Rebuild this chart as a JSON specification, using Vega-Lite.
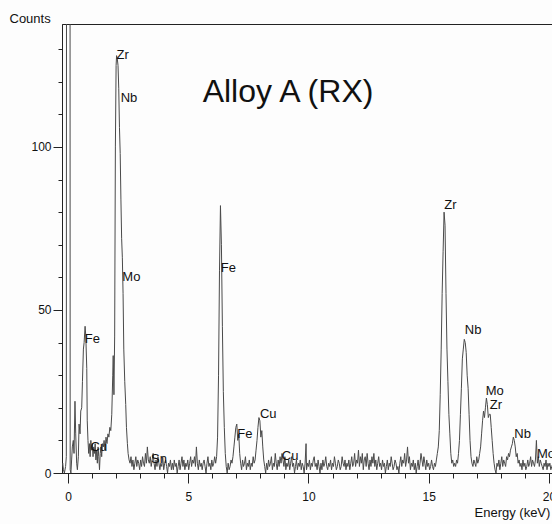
{
  "$schema": "https://vega.github.io/schema/vega-lite/v6.json",
  "width": 491,
  "height": 449,
  "autosize": "none",
  "padding": {"left": 62, "top": 24, "right": 0, "bottom": 51},
  "background": "#fdfdfd",
  "config": {
    "view": {"stroke": "#222", "strokeWidth": 1},
    "font": "Liberation Sans"
  },
  "layer": [
    {
      "data": {"values": [
        {"e":-0.25,"c":2},{"e":-0.22,"c":3},{"e":-0.19,"c":1},{"e":-0.15,"c":0},{"e":-0.1,"c":2},{"e":-0.07,"c":5},{"e":-0.055,"c":300},{"e":0.08,"c":300},{"e":0.09,"c":1},{"e":0.12,"c":0},{"e":0.15,"c":4},{"e":0.18,"c":8},{"e":0.22,"c":10},{"e":0.25,"c":6},{"e":0.29,"c":22},{"e":0.32,"c":12},{"e":0.36,"c":3},{"e":0.39,"c":1},{"e":0.43,"c":5},{"e":0.46,"c":15},{"e":0.5,"c":12},{"e":0.53,"c":19},{"e":0.57,"c":20},{"e":0.6,"c":28},{"e":0.64,"c":38},{"e":0.67,"c":40},{"e":0.71,"c":45},{"e":0.74,"c":42},{"e":0.78,"c":32},{"e":0.8,"c":16},{"e":0.83,"c":10},{"e":0.86,"c":6},{"e":0.89,"c":9},{"e":0.92,"c":5},{"e":0.95,"c":10},{"e":0.98,"c":7},{"e":1.01,"c":9},{"e":1.04,"c":5},{"e":1.07,"c":8},{"e":1.1,"c":6},{"e":1.13,"c":9},{"e":1.16,"c":4},{"e":1.19,"c":7},{"e":1.22,"c":3},{"e":1.25,"c":8},{"e":1.28,"c":5},{"e":1.31,"c":1},{"e":1.34,"c":6},{"e":1.37,"c":8},{"e":1.4,"c":5},{"e":1.43,"c":9},{"e":1.47,"c":8},{"e":1.5,"c":10},{"e":1.54,"c":7},{"e":1.58,"c":11},{"e":1.62,"c":9},{"e":1.66,"c":12},{"e":1.7,"c":11},{"e":1.74,"c":14},{"e":1.78,"c":13},{"e":1.82,"c":18},{"e":1.86,"c":30},{"e":1.88,"c":36},{"e":1.91,"c":24},{"e":1.94,"c":42},{"e":1.97,"c":100},{"e":2.0,"c":125},{"e":2.02,"c":128},{"e":2.05,"c":127},{"e":2.08,"c":125},{"e":2.11,"c":118},{"e":2.14,"c":106},{"e":2.17,"c":98},{"e":2.2,"c":84},{"e":2.23,"c":72},{"e":2.26,"c":66},{"e":2.29,"c":55},{"e":2.32,"c":38},{"e":2.36,"c":28},{"e":2.4,"c":21},{"e":2.43,"c":14},{"e":2.47,"c":9},{"e":2.5,"c":6},{"e":2.54,"c":4},{"e":2.58,"c":3},{"e":2.62,"c":5},{"e":2.66,"c":2},{"e":2.7,"c":4},{"e":2.74,"c":1},{"e":2.78,"c":3},{"e":2.82,"c":5},{"e":2.86,"c":2},{"e":2.9,"c":4},{"e":2.94,"c":3},{"e":2.98,"c":1},{"e":3.02,"c":4},{"e":3.06,"c":2},{"e":3.1,"c":5},{"e":3.14,"c":3},{"e":3.18,"c":2},{"e":3.22,"c":6},{"e":3.26,"c":3},{"e":3.3,"c":8},{"e":3.34,"c":4},{"e":3.38,"c":3},{"e":3.42,"c":5},{"e":3.46,"c":2},{"e":3.5,"c":4},{"e":3.54,"c":6},{"e":3.58,"c":3},{"e":3.62,"c":1},{"e":3.66,"c":4},{"e":3.7,"c":2},{"e":3.74,"c":5},{"e":3.78,"c":3},{"e":3.82,"c":1},{"e":3.86,"c":3},{"e":3.9,"c":2},{"e":3.94,"c":5},{"e":3.98,"c":1},{"e":4.02,"c":3},{"e":4.06,"c":4},{"e":4.1,"c":2},{"e":4.14,"c":0},{"e":4.18,"c":3},{"e":4.22,"c":2},{"e":4.26,"c":4},{"e":4.3,"c":1},{"e":4.34,"c":3},{"e":4.38,"c":1},{"e":4.42,"c":4},{"e":4.46,"c":2},{"e":4.5,"c":3},{"e":4.54,"c":0},{"e":4.58,"c":2},{"e":4.62,"c":4},{"e":4.66,"c":1},{"e":4.7,"c":3},{"e":4.74,"c":5},{"e":4.78,"c":2},{"e":4.82,"c":4},{"e":4.86,"c":1},{"e":4.9,"c":3},{"e":4.94,"c":2},{"e":4.98,"c":4},{"e":5.02,"c":1},{"e":5.06,"c":3},{"e":5.1,"c":5},{"e":5.14,"c":2},{"e":5.18,"c":4},{"e":5.22,"c":3},{"e":5.26,"c":5},{"e":5.3,"c":2},{"e":5.34,"c":8},{"e":5.38,"c":3},{"e":5.42,"c":1},{"e":5.46,"c":4},{"e":5.5,"c":2},{"e":5.54,"c":3},{"e":5.58,"c":1},{"e":5.62,"c":3},{"e":5.66,"c":4},{"e":5.7,"c":2},{"e":5.74,"c":0},{"e":5.78,"c":3},{"e":5.82,"c":5},{"e":5.86,"c":2},{"e":5.9,"c":3},{"e":5.94,"c":1},{"e":5.98,"c":4},{"e":6.02,"c":2},{"e":6.06,"c":3},{"e":6.1,"c":5},{"e":6.14,"c":3},{"e":6.18,"c":5},{"e":6.22,"c":11},{"e":6.26,"c":30},{"e":6.3,"c":62},{"e":6.34,"c":82},{"e":6.38,"c":70},{"e":6.42,"c":45},{"e":6.46,"c":25},{"e":6.5,"c":14},{"e":6.54,"c":6},{"e":6.58,"c":2},{"e":6.62,"c":0},{"e":6.66,"c":3},{"e":6.7,"c":1},{"e":6.74,"c":2},{"e":6.78,"c":4},{"e":6.82,"c":3},{"e":6.86,"c":5},{"e":6.9,"c":8},{"e":6.94,"c":11},{"e":6.98,"c":14},{"e":7.02,"c":15},{"e":7.06,"c":10},{"e":7.1,"c":12},{"e":7.14,"c":6},{"e":7.18,"c":3},{"e":7.22,"c":1},{"e":7.26,"c":4},{"e":7.3,"c":2},{"e":7.34,"c":3},{"e":7.38,"c":5},{"e":7.42,"c":1},{"e":7.46,"c":3},{"e":7.5,"c":2},{"e":7.54,"c":4},{"e":7.58,"c":1},{"e":7.62,"c":3},{"e":7.66,"c":2},{"e":7.7,"c":5},{"e":7.74,"c":3},{"e":7.78,"c":4},{"e":7.82,"c":7},{"e":7.86,"c":10},{"e":7.9,"c":14},{"e":7.94,"c":17},{"e":7.98,"c":16},{"e":8.02,"c":11},{"e":8.06,"c":13},{"e":8.1,"c":8},{"e":8.14,"c":4},{"e":8.18,"c":2},{"e":8.22,"c":0},{"e":8.26,"c":3},{"e":8.3,"c":1},{"e":8.34,"c":4},{"e":8.38,"c":2},{"e":8.42,"c":3},{"e":8.46,"c":5},{"e":8.5,"c":1},{"e":8.54,"c":3},{"e":8.58,"c":2},{"e":8.62,"c":6},{"e":8.66,"c":3},{"e":8.7,"c":1},{"e":8.74,"c":4},{"e":8.78,"c":2},{"e":8.82,"c":5},{"e":8.86,"c":3},{"e":8.9,"c":6},{"e":8.94,"c":4},{"e":8.98,"c":2},{"e":9.02,"c":5},{"e":9.06,"c":1},{"e":9.1,"c":3},{"e":9.14,"c":2},{"e":9.18,"c":4},{"e":9.22,"c":1},{"e":9.26,"c":3},{"e":9.3,"c":5},{"e":9.34,"c":2},{"e":9.38,"c":3},{"e":9.42,"c":0},{"e":9.46,"c":2},{"e":9.5,"c":4},{"e":9.54,"c":1},{"e":9.58,"c":3},{"e":9.62,"c":2},{"e":9.66,"c":4},{"e":9.7,"c":1},{"e":9.74,"c":3},{"e":9.78,"c":2},{"e":9.82,"c":0},{"e":9.86,"c":3},{"e":9.9,"c":9},{"e":9.92,"c":1},{"e":9.96,"c":3},{"e":10.0,"c":2},{"e":10.04,"c":4},{"e":10.08,"c":1},{"e":10.12,"c":3},{"e":10.16,"c":2},{"e":10.2,"c":4},{"e":10.24,"c":5},{"e":10.28,"c":2},{"e":10.32,"c":3},{"e":10.36,"c":1},{"e":10.4,"c":4},{"e":10.44,"c":2},{"e":10.48,"c":0},{"e":10.52,"c":3},{"e":10.56,"c":1},{"e":10.6,"c":4},{"e":10.64,"c":2},{"e":10.68,"c":3},{"e":10.72,"c":5},{"e":10.76,"c":2},{"e":10.8,"c":1},{"e":10.84,"c":3},{"e":10.88,"c":2},{"e":10.92,"c":4},{"e":10.96,"c":1},{"e":11.0,"c":3},{"e":11.04,"c":2},{"e":11.08,"c":5},{"e":11.12,"c":3},{"e":11.16,"c":1},{"e":11.2,"c":2},{"e":11.24,"c":4},{"e":11.28,"c":3},{"e":11.32,"c":1},{"e":11.36,"c":2},{"e":11.4,"c":5},{"e":11.44,"c":3},{"e":11.48,"c":2},{"e":11.52,"c":4},{"e":11.56,"c":1},{"e":11.6,"c":3},{"e":11.64,"c":2},{"e":11.68,"c":4},{"e":11.72,"c":1},{"e":11.76,"c":3},{"e":11.8,"c":5},{"e":11.84,"c":2},{"e":11.88,"c":3},{"e":11.92,"c":6},{"e":11.96,"c":2},{"e":12.0,"c":4},{"e":12.04,"c":3},{"e":12.08,"c":7},{"e":12.12,"c":2},{"e":12.16,"c":5},{"e":12.2,"c":3},{"e":12.24,"c":6},{"e":12.28,"c":1},{"e":12.32,"c":4},{"e":12.36,"c":5},{"e":12.4,"c":2},{"e":12.44,"c":6},{"e":12.48,"c":3},{"e":12.52,"c":1},{"e":12.56,"c":4},{"e":12.6,"c":2},{"e":12.64,"c":5},{"e":12.68,"c":3},{"e":12.72,"c":6},{"e":12.76,"c":2},{"e":12.8,"c":4},{"e":12.84,"c":1},{"e":12.88,"c":3},{"e":12.92,"c":5},{"e":12.96,"c":2},{"e":13.0,"c":3},{"e":13.04,"c":1},{"e":13.08,"c":4},{"e":13.12,"c":2},{"e":13.16,"c":3},{"e":13.2,"c":0},{"e":13.24,"c":2},{"e":13.28,"c":4},{"e":13.32,"c":1},{"e":13.36,"c":3},{"e":13.4,"c":2},{"e":13.44,"c":5},{"e":13.48,"c":3},{"e":13.52,"c":1},{"e":13.56,"c":2},{"e":13.6,"c":4},{"e":13.64,"c":3},{"e":13.68,"c":1},{"e":13.72,"c":2},{"e":13.76,"c":0},{"e":13.8,"c":3},{"e":13.84,"c":5},{"e":13.88,"c":2},{"e":13.92,"c":4},{"e":13.96,"c":3},{"e":14.0,"c":6},{"e":14.04,"c":2},{"e":14.08,"c":4},{"e":14.12,"c":8},{"e":14.16,"c":3},{"e":14.2,"c":5},{"e":14.24,"c":1},{"e":14.28,"c":3},{"e":14.32,"c":2},{"e":14.36,"c":4},{"e":14.4,"c":1},{"e":14.44,"c":3},{"e":14.48,"c":0},{"e":14.52,"c":2},{"e":14.56,"c":4},{"e":14.6,"c":1},{"e":14.64,"c":3},{"e":14.68,"c":6},{"e":14.72,"c":4},{"e":14.76,"c":2},{"e":14.8,"c":5},{"e":14.84,"c":3},{"e":14.88,"c":1},{"e":14.92,"c":4},{"e":14.96,"c":2},{"e":15.0,"c":3},{"e":15.04,"c":1},{"e":15.08,"c":2},{"e":15.12,"c":4},{"e":15.16,"c":2},{"e":15.2,"c":1},{"e":15.24,"c":3},{"e":15.28,"c":2},{"e":15.32,"c":4},{"e":15.36,"c":6},{"e":15.4,"c":8},{"e":15.44,"c":13},{"e":15.48,"c":24},{"e":15.52,"c":38},{"e":15.56,"c":55},{"e":15.6,"c":68},{"e":15.64,"c":80},{"e":15.68,"c":76},{"e":15.72,"c":55},{"e":15.76,"c":38},{"e":15.8,"c":28},{"e":15.84,"c":18},{"e":15.88,"c":12},{"e":15.92,"c":6},{"e":15.96,"c":3},{"e":16.0,"c":4},{"e":16.04,"c":2},{"e":16.08,"c":3},{"e":16.12,"c":2},{"e":16.16,"c":4},{"e":16.2,"c":3},{"e":16.24,"c":6},{"e":16.28,"c":10},{"e":16.32,"c":18},{"e":16.36,"c":26},{"e":16.4,"c":35},{"e":16.44,"c":38},{"e":16.48,"c":41},{"e":16.52,"c":40},{"e":16.56,"c":37},{"e":16.6,"c":30},{"e":16.64,"c":26},{"e":16.68,"c":18},{"e":16.72,"c":10},{"e":16.76,"c":5},{"e":16.8,"c":3},{"e":16.84,"c":2},{"e":16.88,"c":4},{"e":16.92,"c":3},{"e":16.96,"c":2},{"e":17.0,"c":5},{"e":17.04,"c":3},{"e":17.08,"c":4},{"e":17.12,"c":6},{"e":17.16,"c":8},{"e":17.2,"c":12},{"e":17.24,"c":16},{"e":17.28,"c":19},{"e":17.32,"c":17},{"e":17.36,"c":20},{"e":17.4,"c":23},{"e":17.44,"c":21},{"e":17.48,"c":17},{"e":17.52,"c":18},{"e":17.56,"c":18},{"e":17.6,"c":14},{"e":17.64,"c":10},{"e":17.68,"c":6},{"e":17.72,"c":3},{"e":17.76,"c":1},{"e":17.8,"c":0},{"e":17.84,"c":3},{"e":17.88,"c":2},{"e":17.92,"c":4},{"e":17.96,"c":1},{"e":18.0,"c":3},{"e":18.04,"c":5},{"e":18.08,"c":2},{"e":18.12,"c":4},{"e":18.16,"c":3},{"e":18.2,"c":2},{"e":18.24,"c":5},{"e":18.28,"c":4},{"e":18.32,"c":6},{"e":18.36,"c":5},{"e":18.4,"c":7},{"e":18.44,"c":8},{"e":18.48,"c":9},{"e":18.52,"c":11},{"e":18.56,"c":10},{"e":18.6,"c":8},{"e":18.64,"c":5},{"e":18.68,"c":6},{"e":18.72,"c":3},{"e":18.76,"c":4},{"e":18.8,"c":2},{"e":18.84,"c":3},{"e":18.88,"c":1},{"e":18.92,"c":4},{"e":18.96,"c":2},{"e":19.0,"c":3},{"e":19.04,"c":1},{"e":19.08,"c":2},{"e":19.12,"c":4},{"e":19.16,"c":2},{"e":19.2,"c":3},{"e":19.24,"c":5},{"e":19.28,"c":2},{"e":19.32,"c":4},{"e":19.36,"c":3},{"e":19.4,"c":2},{"e":19.44,"c":4},{"e":19.48,"c":10},{"e":19.52,"c":3},{"e":19.56,"c":5},{"e":19.6,"c":2},{"e":19.64,"c":4},{"e":19.68,"c":3},{"e":19.72,"c":2},{"e":19.76,"c":1},{"e":19.8,"c":3},{"e":19.84,"c":2},{"e":19.88,"c":4},{"e":19.92,"c":1},{"e":19.96,"c":3},{"e":20.0,"c":2},{"e":20.04,"c":3},{"e":20.08,"c":1},{"e":20.12,"c":2},{"e":20.17,"c":3}
      ]},
      "mark": {"type": "line", "clip": true, "color": "#4a4a4a", "strokeWidth": 1, "interpolate": "linear"},
      "encoding": {
        "x": {
          "field": "e", "type": "quantitative",
          "scale": {"domain": [-0.25, 20.17], "nice": false, "zero": false},
          "axis": {
            "values": [0,1,2,3,4,5,6,7,8,9,10,11,12,13,14,15,16,17,18,19,20],
            "tickCount": 100,
            "format": "d",
            "labelExpr": "datum.value % 5 === 0 ? datum.label : ''",
            "tickSize": {"condition": {"test": "datum.value % 5 === 0", "value": 10}, "value": 5},
            "labelPadding": 8,
            "labelFontSize": 12,
            "labelColor": "#111",
            "labelFlush": false,
            "labelOverlap": false,
            "labelBound": false,
            "domainColor": "#222",
            "tickColor": "#222",
            "grid": false,
            "title": "Energy (keV)",
            "titleFontSize": 13,
            "titleFontWeight": "normal",
            "titleColor": "#111",
            "titleAlign": "left",
            "titleAnchor": null,
            "titleBaseline": "alphabetic",
            "titleX": 412,
            "titleY": 43
          }
        },
        "y": {
          "field": "c", "type": "quantitative",
          "scale": {"domain": [0, 137.7], "nice": false},
          "axis": {
            "values": [0,10,20,30,40,50,60,70,80,90,100,110,120,130],
            "tickCount": 100,
            "format": "d",
            "labelExpr": "datum.value % 50 === 0 ? datum.label : ''",
            "tickSize": {"condition": {"test": "datum.value % 50 === 0", "value": 9}, "value": 4},
            "labelPadding": 2,
            "labelFontSize": 12,
            "labelColor": "#111",
            "labelFlush": false,
            "labelOverlap": false,
            "labelBound": false,
            "domainColor": "#222",
            "tickColor": "#222",
            "grid": false,
            "title": "Counts",
            "titleFontSize": 13,
            "titleFontWeight": "normal",
            "titleColor": "#111",
            "titleAngle": 0,
            "titleAlign": "left",
            "titleAnchor": null,
            "titleBaseline": "alphabetic",
            "titleX": -53,
            "titleY": -2
          }
        }
      }
    },
    {
      "data": {"values": [
        {"e":2.02,"c":128.3,"t":"Zr"},
        {"e":2.19,"c":115.1,"t":"Nb"},
        {"e":2.26,"c":60.1,"t":"Mo"},
        {"e":0.70,"c":41.2,"t":"Fe"},
        {"e":0.94,"c":8.1,"t":"Cu"},
        {"e":3.45,"c":4.2,"t":"Sn"},
        {"e":6.35,"c":63.0,"t":"Fe"},
        {"e":7.04,"c":12.1,"t":"Fe"},
        {"e":7.98,"c":18.0,"t":"Cu"},
        {"e":8.89,"c":5.3,"t":"Cu"},
        {"e":15.65,"c":82.3,"t":"Zr"},
        {"e":16.5,"c":43.8,"t":"Nb"},
        {"e":17.37,"c":25.1,"t":"Mo"},
        {"e":17.54,"c":21.0,"t":"Zr"},
        {"e":18.56,"c":12.1,"t":"Nb"},
        {"e":19.5,"c":5.9,"t":"Mo"}
      ]},
      "mark": {"type": "text", "align": "left", "baseline": "middle", "fontSize": 13, "color": "#111", "font": "Liberation Sans"},
      "encoding": {
        "x": {"field": "e", "type": "quantitative"},
        "y": {"field": "c", "type": "quantitative"},
        "text": {"field": "t"}
      }
    },
    {
      "data": {"values": [{"e": 5.6, "c": 113.7, "t": "Alloy A (RX)"}]},
      "mark": {"type": "text", "align": "left", "baseline": "alphabetic", "fontSize": 32, "color": "#111", "font": "Liberation Sans"},
      "encoding": {
        "x": {"field": "e", "type": "quantitative"},
        "y": {"field": "c", "type": "quantitative"},
        "text": {"field": "t"}
      }
    }
  ]
}
